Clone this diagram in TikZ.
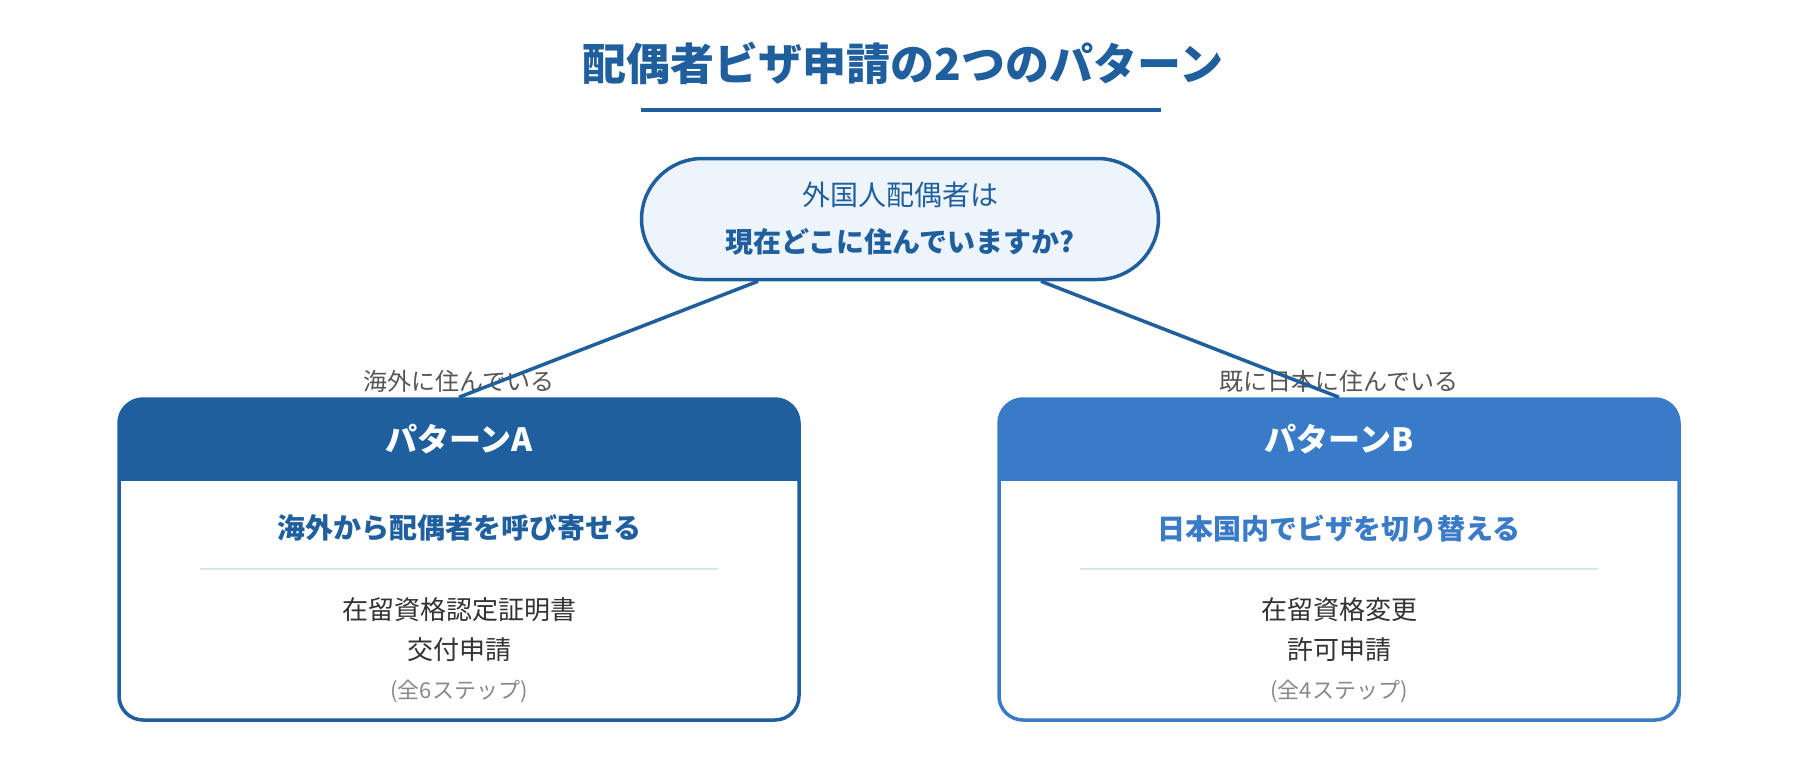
\documentclass[tikz,border=0pt]{standalone}
\usepackage{fontspec}
\setmainfont{Noto Sans CJK JP}
\usetikzlibrary{positioning}

\definecolor{pblue}{HTML}{1F5F9E}
\definecolor{lblue}{HTML}{3A7BC8}
\definecolor{askfill}{HTML}{EEF4FB}
\definecolor{sepline}{HTML}{D4E6F1}
\definecolor{bodytext}{HTML}{333333}
\definecolor{lbltext}{HTML}{555555}
\definecolor{steptext}{HTML}{888888}

\tikzset{
	ask/.style = {draw=pblue, line width=3.5pt, fill=askfill, rounded corners=61pt,
		minimum width=517pt, minimum height=121pt, align=center, text=pblue,
		font=\fontsize{28}{47}\selectfont},
	patbox/.style = {draw=#1, line width=3.5pt, fill=white, rounded corners=24pt,
		minimum width=680pt, minimum height=321pt,
		path picture={\fill[#1, sharp corners] (path picture bounding box.north west)
			rectangle ([yshift=-82pt]path picture bounding box.north east);}},
	conn/.style = {draw=pblue, line width=3.5pt},
	sepl/.style = {draw=sepline, line width=2pt},
	lbl/.style = {text=lbltext, font=\fontsize{24}{28}\selectfont},
	hdr/.style = {text=white, font=\fontsize{32}{38}\selectfont\bfseries},
	goal/.style = {font=\fontsize{28}{34}\selectfont\bfseries},
	body/.style = {text=bodytext, align=center, font=\fontsize{26}{40}\selectfont},
	steps/.style = {text=steptext, font=\fontsize{22}{26}\selectfont}
}

\begin{document}
\begin{tikzpicture}[x=1pt,y=-1pt]
	\useasboundingbox (0,0) rectangle (1800,760);
	% title
	\node[text=pblue, font=\fontsize{44}{52}\selectfont\bfseries] (title) at (903,63) {配偶者ビザ申請の2つのパターン};
	\draw[pblue, line width=4pt] (641,110) -- (1161,110);
	% question
	\node[ask] (ask) at (900,219) {外国人配偶者は\\\bfseries 現在どこに住んでいますか?};
	% patterns
	\node[patbox=pblue] (patA) at (459,559.5) {};
	\node[patbox=lblue] (patB) at (1339,559.5) {};
	\node[lbl] (lblA) at ([yshift=16pt]patA.north) {海外に住んでいる};
	\node[lbl] (lblB) at ([yshift=16pt]patB.north) {既に日本に住んでいる};
	\draw[conn] ([xshift=-142pt]ask.south) -- (patA.north);
	\draw[conn] ([xshift=141pt]ask.south) -- (patB.north);
	% pattern A
	\node[hdr] (hdrA) at ([yshift=-42pt]patA.north) {パターンA};
	\node[goal, text=pblue] (goalA) at ([yshift=-131pt]patA.north) {海外から配偶者を呼び寄せる};
	\draw[sepl] ([xshift=-259pt,yshift=-172pt]patA.north) -- ([xshift=259pt,yshift=-172pt]patA.north);
	\node[body] (reqA) at ([yshift=-232pt]patA.north) {在留資格認定証明書\\交付申請};
	\node[steps] (stepA) at ([yshift=-294pt]patA.north) {(全6ステップ)};
	% pattern B
	\node[hdr] (hdrB) at ([yshift=-42pt]patB.north) {パターンB};
	\node[goal, text=lblue] (goalB) at ([yshift=-131pt]patB.north) {日本国内でビザを切り替える};
	\draw[sepl] ([xshift=-259pt,yshift=-172pt]patB.north) -- ([xshift=259pt,yshift=-172pt]patB.north);
	\node[body] (reqB) at ([yshift=-232pt]patB.north) {在留資格変更\\許可申請};
	\node[steps] (stepB) at ([yshift=-294pt]patB.north) {(全4ステップ)};
\end{tikzpicture}
\end{document}
